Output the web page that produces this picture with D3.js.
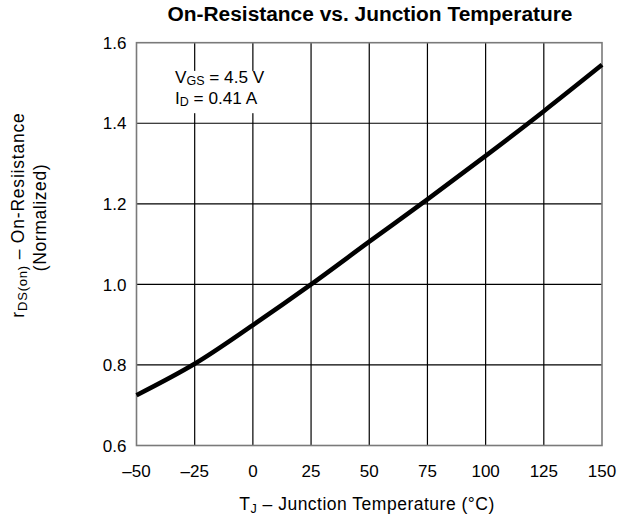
<!DOCTYPE html>
<html>
<head>
<meta charset="utf-8">
<script src="https://cdn.jsdelivr.net/npm/d3@7"></script>
<style>
  html, body { margin: 0; padding: 0; background: #fff; }
  svg { display: block; font-family: "Liberation Sans", Arial, Helvetica, sans-serif; }
</style>
</head>
<body>
<svg id="chart" width="634" height="522"></svg>
<script>
// ---- data ----
const temps = [-50, -25, 0, 25, 50, 75, 100, 125, 150];
const rdsOn = [0.725, 0.803, 0.899, 1.0, 1.106, 1.211, 1.319, 1.43, 1.545];
const xTicks = [-50, -25, 0, 25, 50, 75, 100, 125, 150];
const yTicks = [0.6, 0.8, 1.0, 1.2, 1.4, 1.6];
const titleText = "On-Resistance vs. Junction Temperature";

const svg = d3.select("#chart");
const x = d3.scaleLinear().domain([-50, 150]).range([136.5, 602]);
const y = d3.scaleLinear().domain([0.6, 1.6]).range([445.5, 42.7]);

// gridlines
const grid = svg.append("g");
grid.selectAll("line.v").data(xTicks.slice(1, -1)).enter().append("line")
  .attr("x1", d => x(d)).attr("x2", d => x(d))
  .attr("y1", y(1.6)).attr("y2", y(0.6))
  .attr("stroke", "#000").attr("stroke-width", 1.2);
grid.selectAll("line.h").data(yTicks.slice(1, -1)).enter().append("line")
  .attr("x1", x(-50)).attr("x2", x(150))
  .attr("y1", d => y(d)).attr("y2", d => y(d))
  .attr("stroke", "#000").attr("stroke-width", 1.2);

// white box behind annotation
svg.append("rect")
  .attr("x", x(-45)).attr("y", y(1.53))
  .attr("width", x(15) - x(-45)).attr("height", y(1.425) - y(1.53))
  .attr("fill", "#fff");

// frame
svg.append("rect")
  .attr("x", x(-50)).attr("y", y(1.6))
  .attr("width", x(150) - x(-50)).attr("height", y(0.6) - y(1.6))
  .attr("fill", "none").attr("stroke", "#7a7a7a").attr("stroke-width", 1.6);

// curve
const pts = temps.map((t, i) => [t, rdsOn[i]]);
svg.append("path")
  .datum(pts)
  .attr("d", d3.line().x(d => x(d[0])).y(d => y(d[1])).curve(d3.curveCatmullRom.alpha(0.5)))
  .attr("fill", "none").attr("stroke", "#000").attr("stroke-width", 4.5);

// x tick labels
const fmtX = d => d < 0 ? "\u2013" + Math.abs(d) : String(d);
svg.append("g").selectAll("text").data(xTicks).enter().append("text")
  .attr("x", d => x(d)).attr("y", 477)
  .attr("text-anchor", "middle").attr("font-size", 17).attr("fill", "#000")
  .text(fmtX);

// y tick labels
svg.append("g").selectAll("text").data(yTicks).enter().append("text")
  .attr("x", x(-50) - 10).attr("y", d => y(d)).attr("dy", "0.36em")
  .attr("text-anchor", "end").attr("font-size", 17).attr("fill", "#000")
  .text(d => d.toFixed(1));

// title
svg.append("text")
  .attr("x", 370).attr("y", 20.5).attr("text-anchor", "middle")
  .attr("font-size", 19.5).attr("font-weight", "bold").attr("fill", "#000")
  .attr("textLength", 405).attr("lengthAdjust", "spacingAndGlyphs")
  .text(titleText);

// annotation
const l1 = svg.append("text").attr("font-size", 17.2).attr("fill", "#000").attr("x", 175).attr("y", 83);
l1.append("tspan").text("V");
l1.append("tspan").attr("font-size", 12.5).attr("dy", 2).text("GS");
l1.append("tspan").attr("dy", -2).text(" = 4.5 V");
const l2 = svg.append("text").attr("font-size", 17.2).attr("fill", "#000").attr("x", 175).attr("y", 103.5);
l2.append("tspan").text("I");
l2.append("tspan").attr("font-size", 12.5).attr("dy", 2.5).text("D");
l2.append("tspan").attr("dy", -2.5).text(" = 0.41 A");

// x axis label
const xl = svg.append("text")
  .attr("x", 367).attr("y", 510).attr("text-anchor", "middle")
  .attr("font-size", 17.5).attr("letter-spacing", 0.5).attr("fill", "#000");
xl.append("tspan").text("T");
xl.append("tspan").attr("font-size", 12.5).attr("dy", 3).text("J");
xl.append("tspan").attr("dy", -3).text(" \u2013 Junction Temperature (\u00b0C)");

// y axis label
const yl1 = svg.append("text")
  .attr("transform", "translate(24,215) rotate(-90)")
  .attr("text-anchor", "middle").attr("font-size", 17.5).attr("letter-spacing", 0.8).attr("fill", "#000");
yl1.append("tspan").text("r");
yl1.append("tspan").attr("font-size", 13).attr("dy", 3).text("DS(on)");
yl1.append("tspan").attr("dy", -3).text(" \u2013 On-Resiistance");
svg.append("text")
  .attr("transform", "translate(45.5,217.5) rotate(-90)")
  .attr("text-anchor", "middle").attr("font-size", 17.5).attr("letter-spacing", 0.6).attr("fill", "#000")
  .text("(Normalized)");
</script>
</body>
</html>
